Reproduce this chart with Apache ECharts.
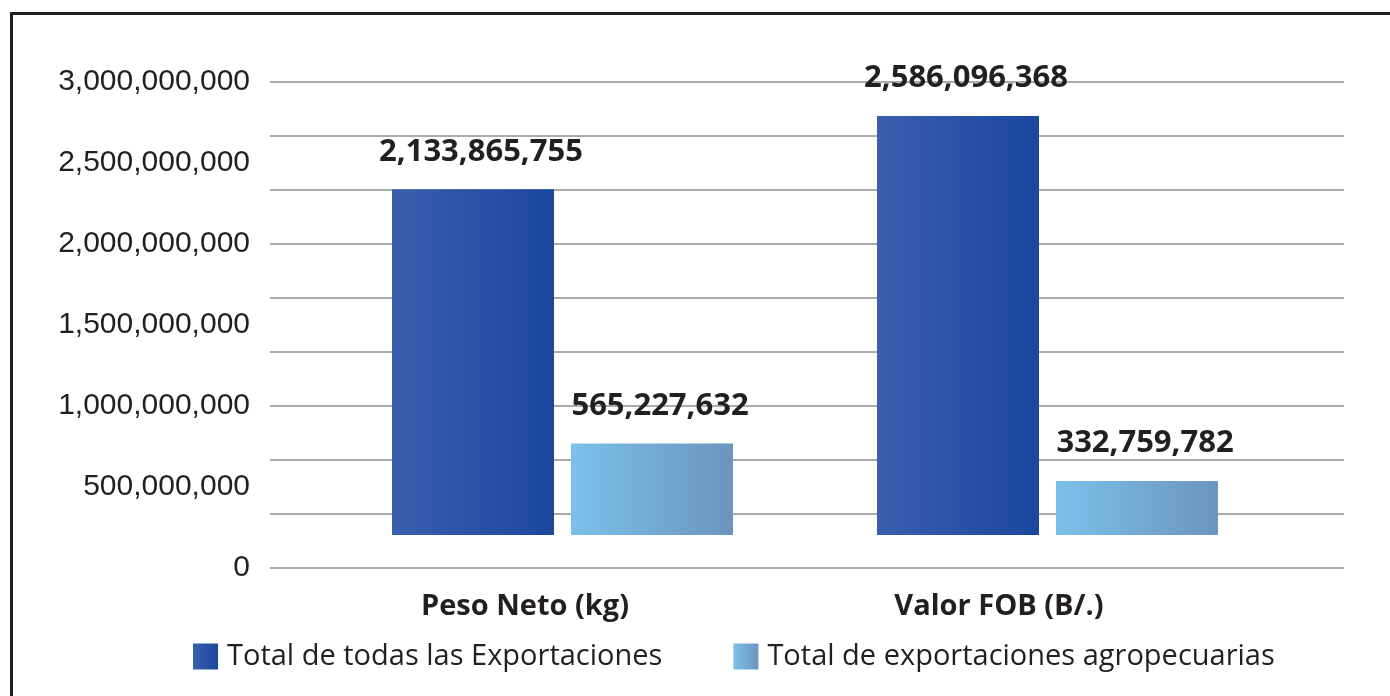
<!DOCTYPE html>
<html>
<head>
<meta charset="utf-8">
<script src="https://cdn.jsdelivr.net/npm/echarts@6/dist/echarts.min.js"></script>
<style>
  html, body { margin: 0; padding: 0; background: #fff; overflow: hidden; }
  #frame {
    position: absolute; left: 10px; top: 12px; right: -20px; bottom: -20px;
    border-left: 3px solid #231f20; border-top: 3px solid #231f20;
  }
  #chart { position: absolute; left: 0; top: 0; width: 1390px; height: 696px; }
</style>
</head>
<body>
<div id="frame"></div>
<div id="chart"></div>
<script>
// ── data ────────────────────────────────────────────────
const categories   = ['Peso Neto (kg)', 'Valor FOB (B/.)'];
const seriesNames  = ['Total de todas las Exportaciones', 'Total de exportaciones agropecuarias'];
const totalExports = [2133865755, 2586096368];
const agroExports  = [565227632, 332759782];
const yTicks       = { min: 0, max: 3000000000, step: 500000000 };

const INK = '#231f20';
const GRID_GRAY = '#ababab';
const SANS = '"Open Sans", "Noto Sans", sans-serif';

const fmt = v => Number(v).toLocaleString('en-US');

function hGrad(from, to) {
  return { type: 'linear', x: 0, y: 0, x2: 1, y2: 0,
           colorStops: [{ offset: 0, color: from }, { offset: 1, color: to }] };
}

const barLabel = {
  show: true,
  position: 'top',
  distance: 22,
  offset: [8, 0],
  color: INK,
  fontFamily: SANS,
  fontWeight: 'bold',
  fontSize: 31,
  formatter: p => fmt(p.value),
};

const chart = echarts.init(document.getElementById('chart'), null, { renderer: 'canvas' });

chart.setOption({
  animation: false,
  // grid 0: value labels + rules, grid 1: bars (drawn a bit higher, like the 3D original),
  // grid 2: category names
  grid: [
    { left: 270, right: 46,  top: 82, bottom: 128 },
    { left: 320, right: 100, top: 49, bottom: 161 },
    { left: 288, right: 154, top: 82, bottom: 128 },
  ],
  legend: {
    left: 193,
    top: 642,
    padding: 0,
    itemWidth: 25,
    itemHeight: 26,
    itemGap: 71,
    icon: 'rect',
    data: seriesNames,
    textStyle: { color: INK, fontFamily: SANS, fontSize: 29, padding: [0, 0, 0, 4] },
  },
  xAxis: [
    { gridIndex: 0, type: 'value', min: 0, max: 1, show: false },
    { gridIndex: 1, type: 'category', data: categories, show: false },
    {
      gridIndex: 2, type: 'category', data: categories,
      axisLine: { show: false }, axisTick: { show: false },
      axisLabel: { margin: 24, color: INK, fontFamily: SANS, fontWeight: 'bold', fontSize: 29 },
    },
  ],
  yAxis: [
    {
      gridIndex: 0, type: 'value', min: yTicks.min, max: yTicks.max, interval: yTicks.step,
      axisLine: { show: false }, axisTick: { show: false }, splitLine: { show: false },
      axisLabel: { margin: 20, color: INK, fontFamily: '"Liberation Sans", Arial, sans-serif', fontSize: 30, formatter: fmt },
    },
    {
      // background rules, 9 bands like the original back wall
      gridIndex: 0, type: 'value', min: 0, max: 9, interval: 1, position: 'left',
      axisLine: { show: false }, axisTick: { show: false }, axisLabel: { show: false },
      splitLine: { show: true, lineStyle: { color: GRID_GRAY, width: 2 } },
    },
    { gridIndex: 1, type: 'value', min: yTicks.min, max: yTicks.max, show: false },
    { gridIndex: 2, type: 'value', show: false },
  ],
  series: [
    {
      name: seriesNames[0], type: 'bar', xAxisIndex: 1, yAxisIndex: 2,
      data: totalExports, barWidth: 162, barGap: '10.5%',
      itemStyle: { color: hGrad('#3a5fae', '#1a479e') },
      label: barLabel,
    },
    {
      name: seriesNames[1], type: 'bar', xAxisIndex: 1, yAxisIndex: 2,
      data: agroExports, barWidth: 162, barGap: '10.5%',
      itemStyle: { color: hGrad('#7cc0ea', '#6a95bd') },
      label: barLabel,
    },
  ],
});
</script>
</body>
</html>
